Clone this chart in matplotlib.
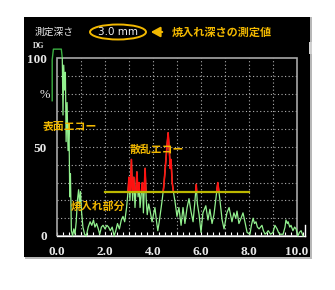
import numpy as np
import matplotlib
matplotlib.use("Agg")
import matplotlib.pyplot as plt
from matplotlib.patches import Rectangle, Ellipse, FancyArrowPatch

# A-scan echo signal (depth axis 0-10, amplitude %)
sig_x = [0.22, 0.25, 0.28, 0.32, 0.35, 0.38, 0.42, 0.46, 0.50, 0.53, 0.56, 0.60,
         0.65, 0.70, 0.75, 0.80, 0.85, 0.90, 0.94, 0.98, 1.02, 1.08, 1.15, 1.22,
         1.30, 1.38, 1.45, 1.52, 1.58, 1.65, 1.72, 1.78, 1.85, 1.92, 2.00, 2.08,
         2.15, 2.22, 2.30, 2.38, 2.45, 2.52, 2.60, 2.68, 2.75, 2.82, 2.90, 2.96,
         3.00, 3.04, 3.10, 3.15, 3.20, 3.25, 3.30, 3.33, 3.38, 3.42, 3.46, 3.52,
         3.56, 3.60, 3.67, 3.72, 3.76, 3.82, 3.88, 3.96, 4.02, 4.08, 4.14, 4.20,
         4.26, 4.32, 4.38, 4.45, 4.52, 4.58, 4.63, 4.68, 4.72, 4.75, 4.80, 4.86,
         4.92, 5.00, 5.08, 5.17, 5.25, 5.33, 5.42, 5.50, 5.58, 5.67, 5.75, 5.80,
         5.85, 5.92, 6.00, 6.08, 6.20, 6.29, 6.37, 6.46, 6.54, 6.62, 6.70, 6.79,
         6.88, 6.96, 7.08, 7.17, 7.29, 7.37, 7.45, 7.50, 7.58, 7.67, 7.75, 7.83,
         7.92, 8.04, 8.10, 8.17, 8.23, 8.29, 8.35, 8.42, 8.54, 8.60, 8.67, 8.75,
         8.80, 8.90, 9.00, 9.08, 9.17, 9.23, 9.29, 9.42, 9.50, 9.54, 9.60, 9.63,
         9.70, 9.75, 9.83, 9.90, 9.96, 10.04, 10.10, 10.17, 10.25]
sig_y = [100, 68, 96, 82, 92, 53, 75, 48, 63, 22, 35, 3,
         0, 4, 1, 8, 20, 26, 18, 25, 14, 5, 1, 0,
         5, 8, 6, 9, 5, 7, 4, 1, 5, 6, 4, 6,
         5, 3, 5, 0, 3, 7, 4, 9, 11, 8, 16, 25,
         33, 20, 43, 20, 33, 16, 28, 36, 22, 30, 16, 25,
         30, 13, 38, 20, 12, 18, 14, 8, 12, 16, 9, 3,
         8, 14, 20, 28, 40, 50, 58, 48, 38, 43, 30, 24,
         19, 11, 16, 6, 16, 7, 16, 21, 14, 8, 20, 29,
         18, 12, 2, 13, 17, 9, 15, 7, 12, 21, 30, 20,
         9, 4, 13, 16, 8, 13, 10, 14, 7, 10, 13, 8,
         2, 1, 6, 10, 7, 8, 5, 4, 6, 3, 1, 2,
         3, 1, 2, 6, 4, 2, 1, 1, 5, 9, 7, 8,
         5, 6, 3, 5, 4, 0, 2, 3, 0]

# initial (transmit) pulse
pulse_x = [-0.20, -0.20, -0.15, 0.18, 0.22]
pulse_y = [76, 99, 105, 105, 100]

gate_start, gate_end, gate_level = 2.0, 8.0, 25
x_ticks = [0, 2, 4, 6, 8, 10]
x_labels = ["0.0", "2.0", "4.0", "6.0", "8.0", "10.0"]
y_ticks = [0, 50, 100]
y_labels = ["0", "50", "100"]

W, H = 335, 290
GOLD = "#f2b800"
GREEN = "#92f08e"


def px(x, y):
    return x / W, 1 - y / H


fig = plt.figure(figsize=(W / 100, H / 100), dpi=100)
fig.patch.set_facecolor("white")

# black instrument panel with a grey edge
fig.patches.append(Rectangle(px(25, 259), 287 / W, 242 / H, transform=fig.transFigure,
                             facecolor="#b8b8b8", edgecolor="none", zorder=-3))
fig.patches.append(Rectangle(px(24, 257), 286 / W, 240 / H, transform=fig.transFigure,
                             facecolor="black", edgecolor="none", zorder=-2))
fig.patches.append(Rectangle(px(309, 54), 3 / W, 12 / H, transform=fig.transFigure,
                             facecolor="#d0d0d0", edgecolor="none", zorder=-1))

# axes: xlim -0.25..10.4 -> px 51..306.6, ylim 0..108 -> px 236..43.8
ax = fig.add_axes([51 / W, (H - 236) / H, 255.6 / W, 192.2 / H])
ax.set_zorder(1)
ax.set_facecolor("none")
ax.set_xlim(-0.25, 10.4)
ax.set_ylim(0, 108)

for s in ["left", "top", "right"]:
    ax.spines[s].set_visible(False)
ax.spines["bottom"].set_color("white")
ax.spines["bottom"].set_linewidth(1.0)
ax.spines["bottom"].set_bounds(0, 10.35)

# dotted grid
for gx in range(1, 10):
    ax.plot([gx, gx], [0, 100], color="#b0b0b0", lw=0.8, ls=(0, (1, 2.2)), zorder=1)
for gy in range(10, 100, 10):
    ax.plot([0, 10], [gy, gy], color="#b0b0b0", lw=0.8, ls=(0, (1, 2.2)), zorder=1)

# grey frame
ax.add_patch(Rectangle((0, 0), 10, 100, facecolor="none", edgecolor="#a8a8a8", lw=1.2, zorder=2))

ax.set_xticks(x_ticks)
ax.set_xticklabels(x_labels, family="Liberation Serif", fontsize=9.5, fontweight="bold",
                   color="#e8e8e8")
ax.set_xticks(np.arange(0, 10.3, 0.25), minor=True)
ax.tick_params(axis="x", which="both", direction="in", color="white", length=3, width=0.8, pad=7)
ax.set_yticks(y_ticks)
ax.set_yticklabels(y_labels, family="Liberation Serif", fontsize=9.5, fontweight="bold",
                   color="#e8e8e8")
ax.tick_params(axis="y", length=0, pad=3)
ax.plot([10.35, 10.35], [0, 6], color="white", lw=1.0, clip_on=False)

# signal
ax.plot(pulse_x, pulse_y, color="#3cb043", lw=1.0, clip_on=False, zorder=3)
ax.plot(sig_x, sig_y, color=GREEN, lw=0.9, clip_on=False, zorder=3)
red, = ax.plot(sig_x, sig_y, color="#ff1010", lw=1.2, zorder=4)
red.set_clip_path(Rectangle((gate_start, gate_level), gate_end - gate_start, 100,
                            transform=ax.transData))

# gate
ax.plot([gate_start, gate_end], [gate_level, gate_level], color="#bcb800", lw=1.6, zorder=5)

# labels on plot
fam = ["Noto Sans CJK JP", "DejaVu Sans"]
fig.text(*px(43, 127), "表面エコー", family=fam, fontsize=7.8, fontweight="bold",
         color=GOLD, va="center", ha="left", zorder=10)
fig.text(*px(130, 150), "散乱エコー", family=fam, fontsize=7.8, fontweight="bold",
         color=GOLD, va="center", ha="left", zorder=10)
fig.text(*px(71, 207), "焼入れ部分", family=fam, fontsize=7.8, fontweight="bold",
         color=GOLD, va="center", ha="left", zorder=10)

# header
fig.text(*px(35, 32), "測定深さ", family=fam, fontsize=7, color="#e8e8e8", va="center")
fig.text(*px(33, 46), "DG", family="Liberation Serif", fontsize=5.5, color="#e8e8e8",
         va="center", fontweight="bold")
fig.text(*px(50, 95), "%", family="Liberation Serif", fontsize=9, color="#e8e8e8",
         va="center", ha="right")
fig.patches.append(Ellipse(px(118, 32), 56 / W, 15 / H, transform=fig.transFigure,
                           facecolor="none", edgecolor=GOLD, lw=1.4))
fig.text(*px(118, 32), "3.0 mm", fontsize=7.5, color="#f0f0f0", va="center", ha="center")
fig.text(*px(172, 32), "焼入れ深さの測定値", family=fam, fontsize=8, fontweight="bold",
         color=GOLD, va="center", ha="left")
fig.patches.append(FancyArrowPatch(px(165, 32), px(148, 32), transform=fig.transFigure,
                                   arrowstyle="-|>,head_length=0.55,head_width=0.3",
                                   color=GOLD, lw=1.5, mutation_scale=10))

fig.savefig("out.png", dpi=100)
